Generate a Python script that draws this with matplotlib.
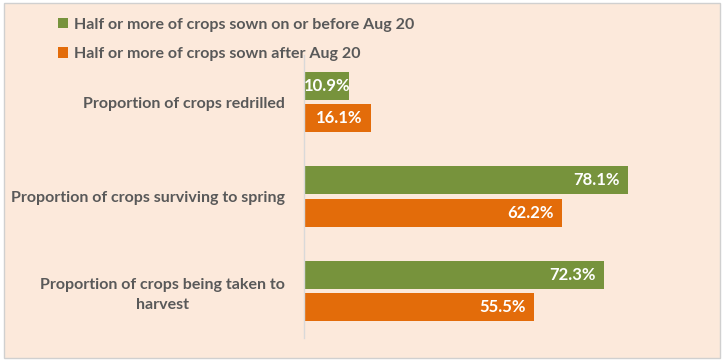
import matplotlib
matplotlib.use('Agg')
import matplotlib.pyplot as plt
from matplotlib.patches import Rectangle

# data
categories = ['Proportion of crops redrilled',
              'Proportion of crops surviving to spring',
              'Proportion of crops being taken to\nharvest']
early_vals = [10.9, 78.1, 72.3]
late_vals = [16.1, 62.2, 55.5]
series_names = ['Half or more of crops sown on or before Aug 20',
                'Half or more of crops sown after Aug 20']

GREEN = '#77933C'
ORANGE = '#E36C0A'
BG = '#FCE9DB'
TXT = '#595959'

plt.rcParams['font.family'] = ['Lato', 'DejaVu Sans']

fig = plt.figure(figsize=(7.25, 3.63), dpi=100)
fig.patch.set_facecolor('white')
# chart area panel with thin grey border
fig.patches.append(Rectangle((4/725, 1 - 358/363), 716/725, 355/363,
                             transform=fig.transFigure, facecolor=BG,
                             edgecolor='#D0D0D0', linewidth=1, zorder=-10))

ax = fig.add_axes([304/725, 25/363, 400/725, 283/363])
ax.set_facecolor('none')
ax.set_zorder(2)

ypos = list(range(len(categories)))
h = 0.296
off = 0.172
b1 = ax.barh([y - off for y in ypos], early_vals, height=h, color=GREEN, label=series_names[0])
b2 = ax.barh([y + off for y in ypos], late_vals, height=h, color=ORANGE, label=series_names[1])

for vals, sign in ((early_vals, -1), (late_vals, 1)):
    for y, v in zip(ypos, vals):
        if v < 12:
            ax.annotate(f'{v}%', (0, y + sign * off), xytext=(0, 0), textcoords='offset points',
                        ha='left', va='center', color='white', fontsize=12, fontweight='bold')
        else:
            ax.annotate(f'{v}%', (v, y + sign * off), xytext=(-6, 0), textcoords='offset points',
                        ha='right', va='center', color='white', fontsize=12, fontweight='bold')

ax.set_xlim(0, 400 / 4.149)
ax.set_ylim(2.5, -0.5)
ax.set_xticks([])
ax.set_yticks(ypos)
ax.set_yticklabels(categories, fontsize=11.5, fontweight='bold', color=TXT,
                   multialignment='center', linespacing=1.5)
ax.tick_params(axis='y', length=0, pad=14)
for s in ['top', 'right', 'bottom']:
    ax.spines[s].set_visible(False)
ax.spines['left'].set_color('#D9D9D9')
ax.spines['left'].set_linewidth(1)

fig.legend(handles=[b1, b2], loc='upper left', bbox_to_anchor=(58/725, 1 - 18/363),
           frameon=False, prop={'weight': 'bold', 'size': 11.5}, labelcolor=TXT,
           handlelength=0.6, handleheight=0.6, handletextpad=0.4, labelspacing=0.95,
           borderaxespad=0, borderpad=0)

fig.savefig('out.png', dpi=100, facecolor=fig.get_facecolor())
